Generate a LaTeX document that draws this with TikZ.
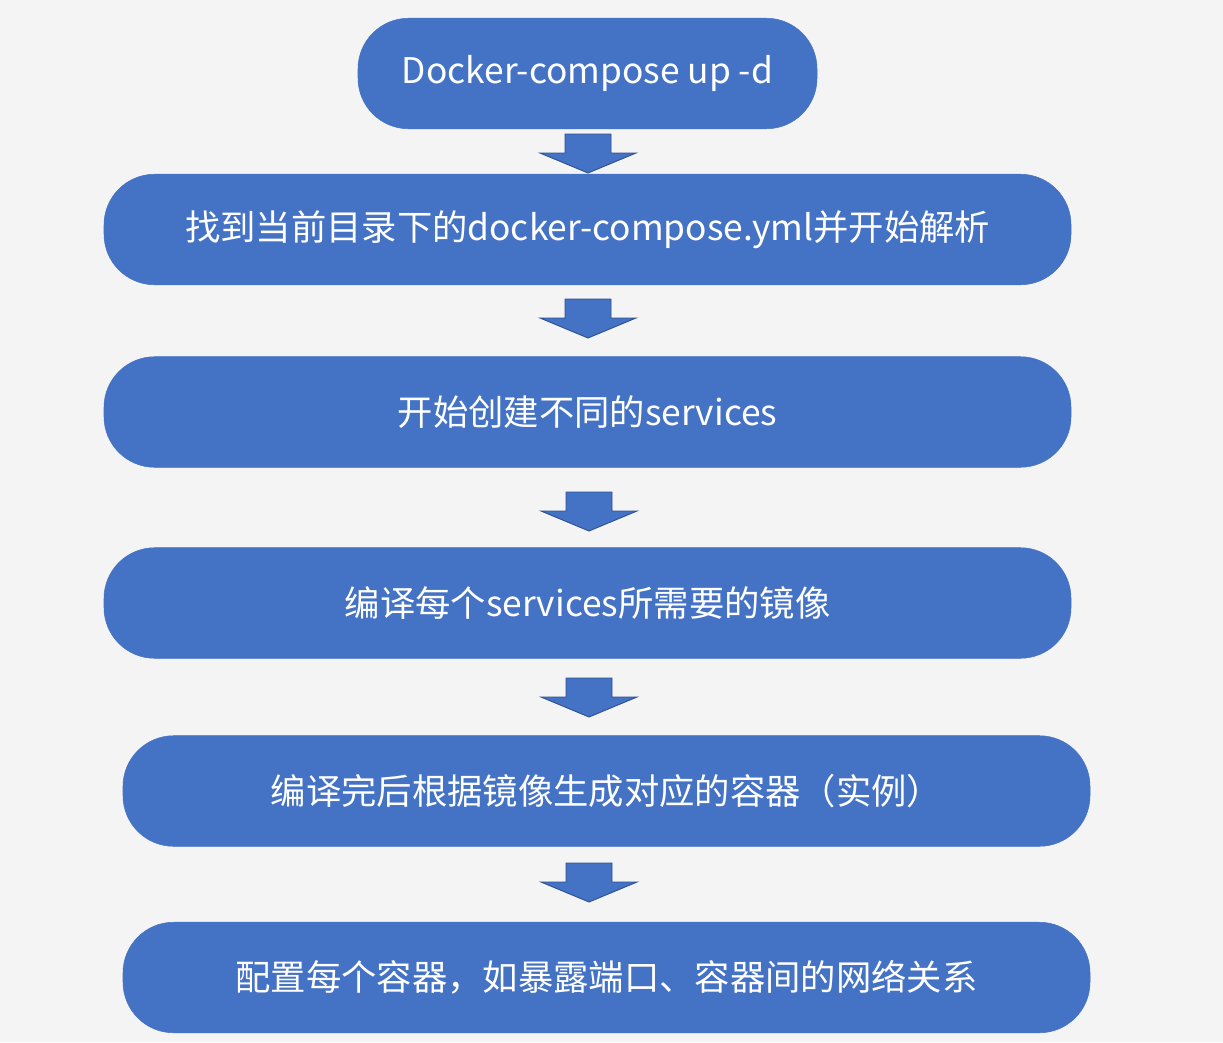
\documentclass[tikz,border=0pt]{standalone}
\usepackage{fontspec}
\setmainfont{Noto Sans CJK SC}
\definecolor{boxblue}{HTML}{4472C4}
\definecolor{arrowedge}{HTML}{2F528F}
\definecolor{bggray}{HTML}{F4F4F4}
\tikzset{
    stepbox/.style={fill=boxblue, draw=boxblue, rounded corners=38pt, minimum width=725.25pt,
        minimum height=82.9pt, inner sep=0pt, text=white, font=\fontsize{26.5pt}{32pt}\selectfont},
    blockarrow/.style={fill=boxblue, draw=arrowedge, line width=0.7pt,
        to path={-- ++(23,0) -- ++(0,19) -- ++(25,0) -- (\tikztotarget)
            -- ++(-48,-20) -- ++(25,0) -- ++(0,-19) -- cycle}}
}
\begin{document}
\begin{tikzpicture}[x=0.75pt, y=-0.75pt]
    \fill[bggray] (0,0) rectangle (1223,1042);
    \useasboundingbox (0,0) rectangle (1223,1042);

    \node[stepbox, minimum width=344.25pt] (up) at (587.5,73.5) {Docker-compose up -d};
    \node[stepbox] (parse) at (587.5,229.5) {找到当前目录下的docker-compose.yml并开始解析};
    \node[stepbox] (services) at (587.5,412) {开始创建不同的services};
    \node[stepbox] (images) at (587.5,603) {编译每个services所需要的镜像};
    \node[stepbox] (containers) at (606.5,791) {编译完后根据镜像生成对应的容器（实例）};
    \node[stepbox] (network) at (606.5,977.5) {配置每个容器，如暴露端口、容器间的网络关系};

    \coordinate (t1) at (588,134);  \coordinate (h1) at (588,173);
    \coordinate (t2) at (588,299);  \coordinate (h2) at (588,338);
    \coordinate (t3) at (589,492);  \coordinate (h3) at (589,531);
    \coordinate (t4) at (589,678);  \coordinate (h4) at (589,717);
    \coordinate (t5) at (589,863);  \coordinate (h5) at (589,902);

    \draw[blockarrow] (t1) to (h1);
    \draw[blockarrow] (t2) to (h2);
    \draw[blockarrow] (t3) to (h3);
    \draw[blockarrow] (t4) to (h4);
    \draw[blockarrow] (t5) to (h5);
\end{tikzpicture}
\end{document}
